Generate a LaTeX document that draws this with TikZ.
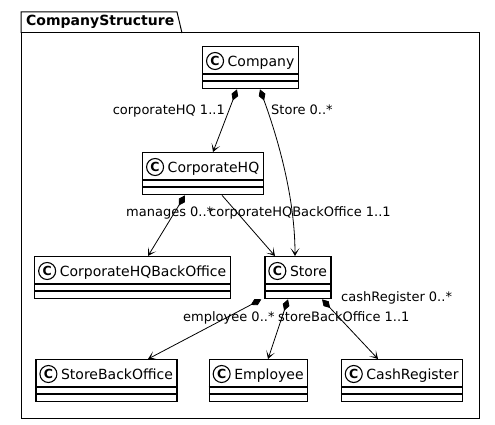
\documentclass[tikz,border=0pt]{standalone}
\usepackage{fontspec}
\setmainfont{DejaVu Sans}
\usetikzlibrary{arrows.meta}
\tikzstyle{umlclass}=[rectangle, draw, line width=1.3pt, fill=white, inner xsep=4pt, inner ysep=0pt, text height=19.5pt, text depth=22.5pt, anchor=north, font=\fontsize{14}{16}\selectfont]
\tikzstyle{compartment}=[draw, line width=1.1pt]
\tikzstyle{classicon}=[circle, draw, line width=1.1pt, fill=white, minimum size=17pt, inner sep=0pt, font=\fontsize{12.5}{12.5}\selectfont\bfseries]
\tikzstyle{edge} = [draw, line width=0.8pt, -{Stealth[length=8pt,width=9pt,inset=5pt]}]
\tikzstyle{composition} = [edge, {Diamond[length=12pt,width=7pt]}-{Stealth[length=8pt,width=9pt,inset=5pt]}]
\tikzstyle{role} = [font=\fontsize{13}{15}\selectfont, inner sep=0pt]

\begin{document}
\begin{tikzpicture}[x=1pt, y=-1pt]
    \useasboundingbox (0,0) rectangle (495,425);

    % package frame
    \draw[line width=1pt] (21,33) rectangle (479,418);
    \draw[line width=1pt] (21,33) |- (177,12) -- (182,33);
    \node[anchor=west, inner sep=0pt, font=\fontsize{14}{16}\selectfont\bfseries] (pkgname) at (26,22) {CompanyStructure};

    \foreach \x/\y/\name/\text in {250.5/46/company/Company, 203/152/corphq/CorporateHQ,
        132.5/256/backoffice/CorporateHQBackOffice, 298/256/store/Store,
        106.5/359/storeoffice/StoreBackOffice, 258.5/359/employee/Employee, 402/359/cashregister/CashRegister}
    {
        \node[umlclass] (\name) at (\x,\y) {\hspace*{21pt}\text};
        \path[compartment] ([yshift=-28pt]\name.north west) -- ([yshift=-28pt]\name.north east);
        \path[compartment] ([yshift=-35pt]\name.north west) -- ([yshift=-35pt]\name.north east);
        \node[classicon] (\name-c) at ([xshift=13pt,yshift=-15pt]\name.north west) {C};
    }

    \path[composition] ([xshift=-13.5pt]company.south) -- ([xshift=10pt]corphq.north);
    \path[composition] ([xshift=9.5pt]company.south) .. controls +(20,55) and +(0,-55) .. ([xshift=-3pt]store.north);
    \path[composition] ([xshift=-18pt]corphq.south) -- ([xshift=15.5pt]backoffice.north);
    \path[edge] ([xshift=19pt]corphq.south) -- ([xshift=-23pt]store.north);
    \path[composition] ([xshift=-3pt]store.south west) -- ([xshift=41.5pt]storeoffice.north);
    \path[composition] ([xshift=-10pt]store.south) -- ([xshift=9.5pt]employee.north);
    \path[composition] ([xshift=24pt]store.south) -- ([xshift=-24pt]cashregister.north);

    \node[role, anchor=base east] (r-corphq) at (225,114) {corporateHQ 1..1};
    \node[role, anchor=base west] (r-store) at (271,114) {Store 0..*};
    \node[role, anchor=base west] (r-manages) at (126,216) {manages 0..*};
    \node[role, anchor=base west] (r-backoffice) at (209,216) {corporateHQBackOffice 1..1};
    \node[role, anchor=base west] (r-cash) at (341,301) {cashRegister 0..*};
    \node[role, anchor=base west] (r-employee) at (183,321) {employee 0..*};
    \node[role, anchor=base west] (r-storeoffice) at (278,321) {storeBackOffice 1..1};
\end{tikzpicture}
\end{document}
